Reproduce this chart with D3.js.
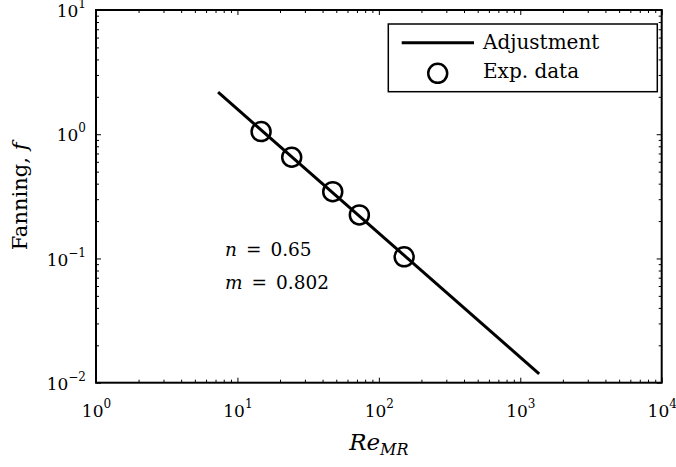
<!DOCTYPE html>
<html>
<head>
<meta charset="utf-8">
<script src="https://cdn.jsdelivr.net/npm/d3@7"></script>
<style>
	body { margin: 0; background: #fff; }
	svg, svg text { font-family: "DejaVu Serif", serif; }
</style>
</head>
<body>
<div id="chart"></div>
<script>
// experimental points (Re_MR, Fanning f)
const reData = [14.7, 24.2, 47.2, 72.8, 151];
const fData = [1.05, 0.653, 0.345, 0.224, 0.103];
// fitted line end points
const fitRe = [7.3, 1360];
const fitF = [2.18, 0.0118];
// decade exponents used as tick labels
const xTickExp = [0, 1, 2, 3, 4];
const yTickExp = [-2, -1, 0, 1];
const legendLabels = ["Adjustment", "Exp. data"];
const notes = [["n", "0.65"], ["m", "0.802"]];

const params = {
	selector: "#chart",
	width: 676, height: 467,
	left: 96, right: 661.7, top: 10, bottom: 382.7
};

const makeContainer = (params) => {
	return d3.select(params.selector)
		.append("svg")
		.attr("width", params.width)
		.attr("height", params.height)
}

const makeScales = (params) => {
	const xScale = d3.scaleLog()
		.domain([1, 1e4])
		.range([params.left, params.right])
	const yScale = d3.scaleLog()
		.domain([0.01, 10])
		.range([params.bottom, params.top])
	return [xScale, yScale];
}

// all minor tick values (2..9 in every decade)
const minorTicks = (exps) => {
	let out = [];
	for (let e of exps.slice(0, -1))
		for (let k = 2; k < 10; k++) out.push(k * Math.pow(10, e));
	return out;
}

const superLabel = (sel, exps) => {
	sel.each(function (d, i) {
		let t = d3.select(this).text(null)
		t.append("tspan").text("10")
		let e = exps[i]
		t.append("tspan").attr("font-size", 12).attr("dy", -9)
			.text(e < 0 ? "\u2212" + (-e) : e)
	})
}

const addAxes = (svg, xScale, yScale, params) => {
	const xMaj = xTickExp.map(e => Math.pow(10, e));
	const yMaj = yTickExp.map(e => Math.pow(10, e));
	const styleAxis = g => {
		g.attr("font-family", null).attr("font-size", null)
		g.select(".domain").remove()
		g.selectAll("line").attr("stroke", "#000").attr("stroke-width", 1)
	}

	const axes = [
		[d3.axisBottom(xScale), `translate(0,${params.bottom})`, xTickExp, xMaj],
		[d3.axisTop(xScale), `translate(0,${params.top})`, xTickExp, xMaj],
		[d3.axisLeft(yScale), `translate(${params.left},0)`, yTickExp, yMaj],
		[d3.axisRight(yScale), `translate(${params.right},0)`, yTickExp, yMaj]
	];
	for (let [ax, tr, exps, maj] of axes) {
		svg.append("g").attr("transform", tr)
			.call(ax.tickValues(minorTicks(exps)).tickSizeInner(-3).tickSizeOuter(0).tickFormat(""))
			.call(styleAxis)
		svg.append("g").attr("class", "major").attr("transform", tr)
			.call(ax.tickValues(maj).tickSizeInner(-5).tickSizeOuter(0).tickFormat(""))
			.call(styleAxis)
	}

	// labels only on bottom and left
	let majors = svg.selectAll("g.major").nodes();
	d3.select(majors[0]).selectAll(".tick text")
		.attr("font-size", 17).attr("fill", "#000")
		.attr("y", 34).attr("dy", null).attr("text-anchor", "middle")
		.call(superLabel, xTickExp)
	d3.select(majors[2]).selectAll(".tick text")
		.attr("font-size", 17).attr("fill", "#000")
		.attr("x", -10).attr("dy", 6.7).attr("text-anchor", "end")
		.call(superLabel, yTickExp)

	svg.append("rect")
		.attr("x", params.left).attr("y", params.top)
		.attr("width", params.right - params.left)
		.attr("height", params.bottom - params.top)
		.attr("fill", "none").attr("stroke", "#000").attr("stroke-width", 2)

	// axis titles
	let xl = svg.append("text")
		.attr("x", (params.left + params.right) / 2).attr("y", 450)
		.attr("text-anchor", "middle").attr("font-size", 23)
		.attr("font-style", "italic")
	xl.append("tspan").text("Re")
	xl.append("tspan").attr("font-size", 16).attr("dy", 5).text("MR")

	let yl = svg.append("text")
		.attr("transform", `translate(27,${(params.top + params.bottom) / 2}) rotate(-90)`)
		.attr("text-anchor", "middle").attr("font-size", 21)
	yl.append("tspan").text("Fanning,")
	yl.append("tspan").attr("font-style", "italic").attr("dx", 7).text("f")
}

const makeMarks = (svg, xScale, yScale) => {
	const line = d3.line()
		.x(d => xScale(d[0]))
		.y(d => yScale(d[1]))
	svg.append("path")
		.datum(d3.zip(fitRe, fitF))
		.attr("d", line)
		.attr("fill", "none").attr("stroke", "#000").attr("stroke-width", 3)

	svg.append("g").selectAll("circle")
		.data(d3.zip(reData, fData))
		.join("circle")
		.attr("cx", d => xScale(d[0]))
		.attr("cy", d => yScale(d[1]))
		.attr("r", 9.5)
		.attr("fill", "none").attr("stroke", "#000").attr("stroke-width", 2.5)

	notes.forEach((n, i) => {
		let t = svg.append("text")
			.attr("x", 225).attr("y", 256 + i * 33)
			.attr("font-size", 18.5)
		t.append("tspan").attr("font-style", "italic").text(n[0])
		t.append("tspan").attr("dx", 9).text("=")
		t.append("tspan").attr("dx", 9).text(n[1])
	})
}

const addLegend = (svg) => {
	let g = svg.append("g")
	g.append("rect")
		.attr("x", 388.3).attr("y", 24).attr("width", 269).attr("height", 67.7)
		.attr("fill", "#fff").attr("stroke", "#000").attr("stroke-width", 1.5)
	g.append("line")
		.attr("x1", 401.7).attr("x2", 474).attr("y1", 42.7).attr("y2", 42.7)
		.attr("stroke", "#000").attr("stroke-width", 3)
	g.append("circle")
		.attr("cx", 437.7).attr("cy", 73.3).attr("r", 9.5)
		.attr("fill", "none").attr("stroke", "#000").attr("stroke-width", 2.5)
	g.selectAll("text.leg")
		.data(legendLabels)
		.join("text")
		.attr("class", "leg")
		.attr("x", 483).attr("y", (d, i) => 48.7 + i * 29.5)
		.attr("font-size", 20)
		.text(d => d)
}

const main = (params) => {
	let svg = makeContainer(params);
	let [xScale, yScale] = makeScales(params);
	addAxes(svg, xScale, yScale, params);
	makeMarks(svg, xScale, yScale);
	addLegend(svg);
}

main(params);
</script>
</body>
</html>
